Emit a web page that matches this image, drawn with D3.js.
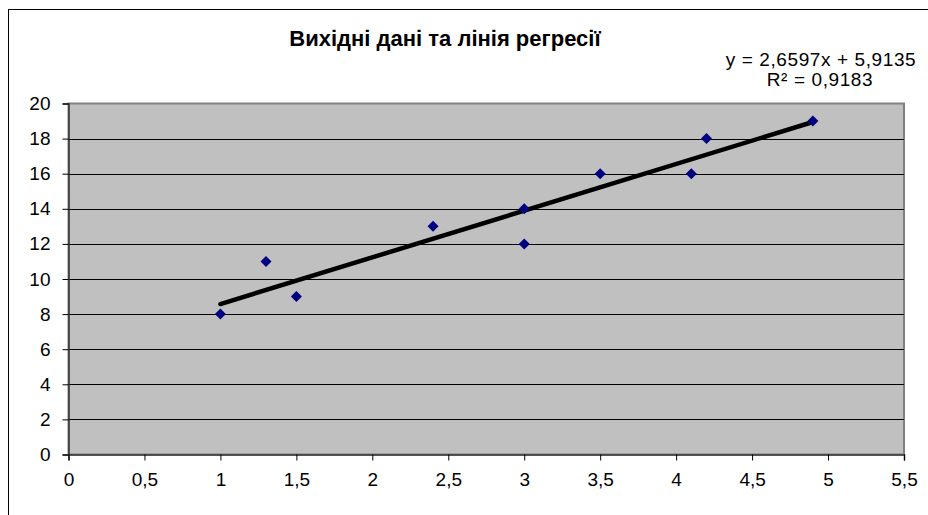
<!DOCTYPE html>
<html>
<head>
<meta charset="utf-8">
<script src="https://cdn.jsdelivr.net/npm/d3@7"></script>
<style>
  body { margin: 0; background: #fff; }
  svg { display: block; font-family: "Liberation Sans", Arial, sans-serif; }
</style>
</head>
<body>
<script>
// source data
const xs = [1, 1.3, 1.5, 2.4, 3, 3, 3.5, 4.1, 4.2, 4.9];
const ys = [8, 11, 9, 13, 14, 12, 16, 16, 18, 19];
const slope = 2.6597, intercept = 5.9135, r2 = 0.9183;
const xTicks = [0, 0.5, 1, 1.5, 2, 2.5, 3, 3.5, 4, 4.5, 5, 5.5];
const yTicks = [0, 2, 4, 6, 8, 10, 12, 14, 16, 18, 20];

const width = 928, height = 515;
const m = {left: 68.5, right: 904, top: 103.5, bottom: 454.5};

const comma = v => String(v).replace(".", ",");

let svg = d3.select("body").append("svg")
  .attr("width", width).attr("height", height);

// chart frame
svg.append("rect")
  .attr("x", 8.5).attr("y", 9.5)
  .attr("width", 940).attr("height", 520)
  .attr("fill", "#fff").attr("stroke", "#000").attr("stroke-width", 1);

let x = d3.scaleLinear().domain([0, 5.5]).range([m.left, m.right]);
let y = d3.scaleLinear().domain([0, 20]).range([m.bottom, m.top]);

// plot area
svg.append("rect")
  .attr("x", m.left).attr("y", m.top)
  .attr("width", m.right - m.left).attr("height", m.bottom - m.top)
  .attr("fill", "#c0c0c0")
  .attr("stroke", "#808080").attr("stroke-width", 2);

// gridlines
svg.append("g")
  .selectAll("line")
  .data(yTicks.filter(d => d > 0 && d < 20))
  .enter().append("line")
  .attr("x1", m.left).attr("x2", m.right)
  .attr("y1", d => Math.round(y(d)) + 0.5).attr("y2", d => Math.round(y(d)) + 0.5)
  .attr("stroke", "#000").attr("stroke-width", 1);

// axes
let yAxis = svg.append("g")
  .attr("transform", `translate(${m.left},0)`)
  .call(d3.axisLeft(y).tickValues(yTicks).tickSize(6).tickPadding(12).tickFormat(comma));
let xAxis = svg.append("g")
  .attr("transform", `translate(0,${m.bottom})`)
  .call(d3.axisBottom(x).tickValues(xTicks).tickSize(6).tickPadding(12).tickFormat(comma));

[yAxis, xAxis].forEach(g => {
  g.select(".domain").attr("stroke", "#333").attr("stroke-width", 1.5);
  g.selectAll(".tick line").attr("stroke", "#000");
  g.selectAll("text")
    .attr("fill", "#000")
    .style("font-size", "19px")
    .style("font-family", "'Liberation Sans', Arial, sans-serif");
});

// trend line over the data range
let x0 = d3.min(xs), x1 = d3.max(xs);
svg.append("line")
  .attr("x1", x(x0)).attr("y1", y(slope * x0 + intercept))
  .attr("x2", x(x1)).attr("y2", y(slope * x1 + intercept))
  .attr("stroke", "#000").attr("stroke-width", 4.5)
  .attr("stroke-linecap", "round");

// markers
svg.append("g")
  .selectAll("path")
  .data(xs.map((v, i) => [v, ys[i]]))
  .enter().append("path")
  .attr("transform", d => `translate(${x(d[0])},${y(d[1])})`)
  .attr("d", "M0,-5.5L5.5,0L0,5.5L-5.5,0Z")
  .attr("fill", "#000080");

// title
svg.append("text")
  .attr("x", 445).attr("y", 46)
  .attr("text-anchor", "middle")
  .style("font-size", "22px").style("font-weight", "bold")
  .text("Вихідні дані та лінія регресії");

// equation label
let eq = svg.append("text")
  .attr("text-anchor", "middle")
  .style("font-size", "19px")
  .style("letter-spacing", "0.6px");
eq.append("tspan").attr("x", 821).attr("y", 66)
  .text(`y = ${comma(slope)}x + ${comma(intercept)}`);
eq.append("tspan").attr("x", 820).attr("y", 86)
  .text(`R² = ${comma(r2)}`);
</script>
</body>
</html>
